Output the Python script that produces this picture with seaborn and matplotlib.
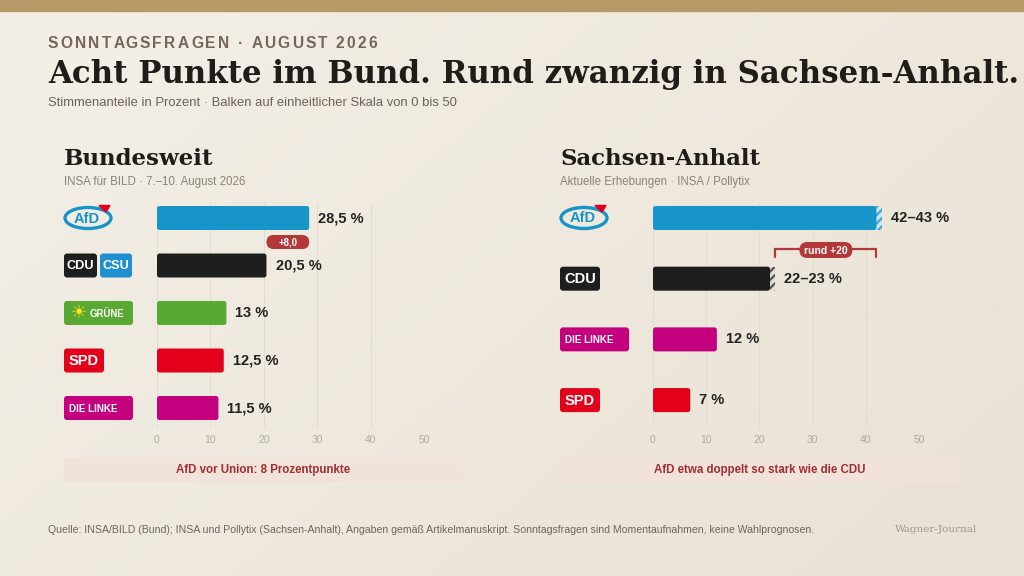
import numpy as np
import pandas as pd
import matplotlib
matplotlib.use('Agg')
import matplotlib.pyplot as plt
from matplotlib.colors import LinearSegmentedColormap
from matplotlib.patches import FancyBboxPatch, Ellipse, Polygon, Rectangle
import seaborn as sns

W, H = 1024, 576

# ── Data ──────────────────────────────────────────────────────────────────────
bund_parties = ['AfD', 'CDU/CSU', 'GRÜNE', 'SPD', 'DIE LINKE']
bund_values = [28.5, 20.5, 13.0, 12.5, 11.5]

sa_parties = ['AfD', 'CDU', 'DIE LINKE', 'SPD']
sa_low = [42, 22, 12, 7]
sa_high = [43, 23, 12, 7]

x_ticks = [0, 10, 20, 30, 40, 50]

party_colors = {
    'AfD': '#1795c8', 'CDU/CSU': '#1e1e1e', 'CDU': '#1e1e1e',
    'GRÜNE': '#58a831', 'SPD': '#e2001a', 'DIE LINKE': '#c5007e',
}
hatch_colors = {'AfD': ('#cfe6f1', '#3ea3d6'), 'CDU': ('#e2ddd5', '#555555')}

RED = '#b2383a'
DARK = '#222222'

# ── Style ─────────────────────────────────────────────────────────────────────
sns.set_theme(style='white')
plt.rcParams['font.family'] = ['Liberation Sans', 'DejaVu Sans']
plt.rcParams['hatch.linewidth'] = 1.6

fig = plt.figure(figsize=(W / 100, H / 100), dpi=100)

# background gradient
bg = fig.add_axes([0, 0, 1, 1], zorder=-10)
cmap = LinearSegmentedColormap.from_list('bg', ['#f4f0e8', '#e9e1d4'])
gx, gy = np.meshgrid(np.linspace(0, 1, 200), np.linspace(0, 1, 120))
bg.imshow(0.6 * gx + 0.4 * gy, cmap=cmap, extent=[0, W, H, 0], aspect='auto')
bg.add_patch(Rectangle((0, 0), W, 11, color='#b69a68'))
bg.set_xlim(0, W)
bg.set_ylim(H, 0)
bg.axis('off')

# overlay in pixel coordinates (y downwards)
ov = fig.add_axes([0, 0, 1, 1], zorder=5)
ov.set_xlim(0, W)
ov.set_ylim(H, 0)
ov.axis('off')
ov.patch.set_alpha(0)


def panel_axes(x0, x1, y0, y1):
    return fig.add_axes([x0 / W, 1 - y1 / H, (x1 - x0) / W, (y1 - y0) / H])


def to_px(ax, x, y):
    d = ax.transData.transform((x, y))
    return ov.transData.inverted().transform(d)


def round_bars(ax, radius_px=2.5):
    # swap seaborn's rectangles for slightly rounded ones
    x_per_px = 50 / ax.bbox.width
    y_per_px = abs(np.diff(ax.get_ylim())[0]) / ax.bbox.height
    for p in list(ax.patches):
        x, y = p.get_x(), p.get_y()
        w, h = p.get_width(), p.get_height()
        fc = p.get_facecolor()
        p.remove()
        ax.add_patch(FancyBboxPatch((x, y), w, h,
                                    boxstyle=f'round,pad=0,rounding_size={radius_px * x_per_px}',
                                    mutation_aspect=y_per_px / x_per_px,
                                    fc=fc, ec='none', zorder=2))


def draw_panel(ax, names, lo, hi, bar_h, ylim):
    df = pd.DataFrame({'party': names, 'value': lo})
    sns.barplot(data=df, x='value', y='party', hue='party',
                palette={n: party_colors[n] for n in names},
                width=bar_h, legend=False, ax=ax, saturation=1, linewidth=0)
    ax.set_xlim(0, 50)
    ax.set_ylim(*ylim)
    round_bars(ax)
    for i, (n, l, h) in enumerate(zip(names, lo, hi)):
        if h > l:
            fc, ec = hatch_colors[n]
            ax.barh(i, h - l, left=l, height=bar_h, color=fc, edgecolor=ec,
                    hatch='////', linewidth=0, zorder=1)
            label = f'{l}–{h} %'
        else:
            label = f'{h:g} %'.replace('.', ',')
        ax.text(h + 1.7, i, label, va='center', ha='left', fontsize=10.5,
                fontweight='bold', color=DARK, clip_on=False)
    ax.set_xticks(x_ticks)
    ax.set_yticks([])
    ax.set_xlabel('')
    ax.set_ylabel('')
    ax.grid(axis='x', color='#e3dcd1', lw=0.8)
    ax.set_axisbelow(True)
    sns.despine(ax=ax, left=True, bottom=True)
    ax.tick_params(axis='x', length=0, pad=5, labelsize=7.5, labelcolor='#b3aba0')
    ax.patch.set_alpha(0)


ax1 = panel_axes(157, 424, 203, 428)
draw_panel(ax1, bund_parties, bund_values, bund_values, 0.505, (4.421, -0.316))
ax2 = panel_axes(653, 919, 203, 428)
draw_panel(ax2, sa_parties, sa_low, sa_high, 0.396, (3.46, -0.247))


# ── Logos ─────────────────────────────────────────────────────────────────────
def box(x0, x1, yc, color, text, fs, tx=None):
    ov.add_patch(FancyBboxPatch((x0, yc - 12), x1 - x0, 24,
                                boxstyle='round,pad=0,rounding_size=3',
                                fc=color, ec='none'))
    if tx is None:
        ov.text((x0 + x1) / 2, yc + 0.5, text, ha='center', va='center',
                color='white', fontsize=fs, fontweight='bold')
    else:
        ov.text(tx, yc + 0.5, text, ha='left', va='center',
                color='white', fontsize=fs, fontweight='bold')


def afd_logo(cx, cy):
    ov.add_patch(Ellipse((cx, cy), 46, 21, fill=False, ec=party_colors['AfD'], lw=2.4))
    ov.text(cx - 1, cy + 0.5, 'AfD', ha='center', va='center',
            color=party_colors['AfD'], fontsize=10.5, fontweight='bold')
    ov.add_patch(Polygon([(cx + 11, cy - 12.5), (cx + 22, cy - 12.5), (cx + 18, cy - 6)],
                         closed=True, color='#e3001b', zorder=3))


def logo(ax, i, name, x0):
    yc = to_px(ax, 0, i)[1]
    if name == 'AfD':
        afd_logo(x0 + 24, yc)
    elif name == 'CDU/CSU':
        box(x0, x0 + 33, yc, '#1e1e1e', 'CDU', 9.2)
        box(x0 + 36, x0 + 68, yc, '#1f8fd0', 'CSU', 9.2)
    elif name == 'CDU':
        box(x0, x0 + 40, yc, '#1e1e1e', 'CDU', 10.5)
    elif name == 'GRÜNE':
        box(x0, x0 + 69, yc, party_colors['GRÜNE'], 'GRÜNE', 6.9, tx=x0 + 26)
        ov.text(x0 + 15, yc + 0.5, '☀', ha='center', va='center',
                color='#ffe21a', fontsize=13, family='DejaVu Sans')
    elif name == 'SPD':
        box(x0, x0 + 40, yc, party_colors['SPD'], 'SPD', 10.5)
    elif name == 'DIE LINKE':
        box(x0, x0 + 69, yc, party_colors['DIE LINKE'], 'DIE LINKE', 7.1, tx=x0 + 5)


for i, n in enumerate(bund_parties):
    logo(ax1, i, n, 64)
for i, n in enumerate(sa_parties):
    logo(ax2, i, n, 560)


# ── Difference markers ───────────────────────────────────────────────────────
def pill(cx, cy, w, h, text, fs):
    ov.add_patch(FancyBboxPatch((cx - w / 2, cy - h / 2), w, h,
                                boxstyle=f'round,pad=0,rounding_size={h / 2}',
                                fc=RED, ec='none'))
    ov.text(cx, cy + 0.5, text, ha='center', va='center', color='white',
            fontsize=fs, fontweight='bold')


# Bund: AfD minus Union
xa = to_px(ax1, bund_values[1], 0)[0]
xb = to_px(ax1, bund_values[0], 0)[0]
diff = bund_values[0] - bund_values[1]
pill((xa + xb) / 2, 242, xb - xa, 14, f'+{diff:.1f}'.replace('.', ','), 7)

# Sachsen-Anhalt: bracket from CDU top to AfD bottom
xa = to_px(ax2, sa_high[1], 0)[0]
xb = to_px(ax2, sa_low[0], 0)[0]
ov.plot([xa, xa, xb, xb], [257, 249, 249, 257], color=RED, lw=1.6,
        solid_joinstyle='miter')
pill((xa + xb) / 2, 250, 53, 16, 'rund +20', 7.5)

# ── Callout boxes ─────────────────────────────────────────────────────────────
for x0, x1, txt in [(64, 463, 'AfD vor Union: 8 Prozentpunkte'),
                    (560, 960, 'AfD etwa doppelt so stark wie die CDU')]:
    ov.add_patch(Rectangle((x0, 457), x1 - x0, 25, fc='#f1e2da', ec='none'))
    ov.text((x0 + x1) / 2, 470, txt, ha='center', va='center', color='#9e2f32',
            fontsize=8.3, fontweight='bold')

# ── Header ────────────────────────────────────────────────────────────────────
renderer = fig.canvas.get_renderer()


def spaced_text(x, y, s, spacing, **kw):
    probe = ov.text(0, 0, '', **kw)
    for i, ch in enumerate(s):
        probe.set_text(s[:i] if i else '')
        w = probe.get_window_extent(renderer).width if i else 0
        ov.text(x + w + i * spacing, y, ch, va='center', ha='left', **kw)
    probe.remove()


spaced_text(48, 44, 'SONNTAGSFRAGEN · AUGUST 2026', 2.2,
            fontsize=11.2, fontweight='bold', color='#76655a')
ov.text(48, 83, 'Acht Punkte im Bund. Rund zwanzig in Sachsen-Anhalt.',
        ha='left', va='baseline', fontsize=22.2, fontweight='bold',
        family='DejaVu Serif', color='#1f1c19')
ov.text(48, 103, 'Stimmenanteile in Prozent · Balken auf einheitlicher Skala von 0 bis 50',
        ha='left', va='center', fontsize=9.4, color='#6b625a')

for x0, title, sub in [(64, 'Bundesweit', 'INSA für BILD · 7.–10. August 2026'),
                       (560, 'Sachsen-Anhalt', 'Aktuelle Erhebungen · INSA / Pollytix')]:
    ov.text(x0, 165, title, ha='left', va='baseline', fontsize=16.5,
            fontweight='bold', family='DejaVu Serif', color='#1f1c19')
    ov.text(x0, 182, sub, ha='left', va='center', fontsize=8.3, color='#8b837a')

# ── Footer ────────────────────────────────────────────────────────────────────
ov.text(48, 530, 'Quelle: INSA/BILD (Bund); INSA und Pollytix (Sachsen-Anhalt), Angaben gemäß '
        'Artikelmanuskript. Sonntagsfragen sind Momentaufnahmen, keine Wahlprognosen.',
        ha='left', va='center', fontsize=7.6, color='#6e665e')
ov.text(977, 530, 'Wagner-Journal', ha='right', va='center', fontsize=7.5,
        family='DejaVu Serif', color='#a09688')

fig.savefig('out.png', dpi=100)
